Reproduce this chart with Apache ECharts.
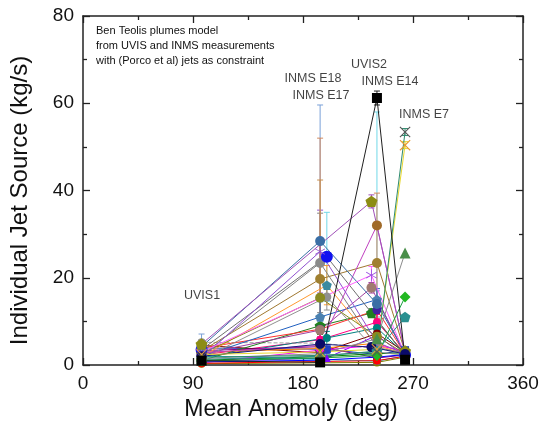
<!DOCTYPE html>
<html>
<head>
<meta charset="utf-8">
<script src="https://cdn.jsdelivr.net/npm/echarts@6/dist/echarts.min.js"></script>
<style>
  html, body { margin: 0; padding: 0; background: #fff; }
  #chart { width: 543px; height: 431px; }
</style>
</head>
<body>
<div id="chart"></div>
<script>
// Observation passes and their mean anomaly (deg)
const passNames  = ['UVIS1', 'INMS E18', 'INMS E17', 'UVIS2', 'INMS E14', 'INMS E7'];
const passAngles = [97, 194, 199.5, 236, 240.5, 263.5];

// Where each pass name is written (deg, kg/s)
const passLabelAngles  = [97.4, 188.2, 194.7, 234, 251.2, 279];
const passLabelHeights = [16.0, 65.6, 61.7, 68.8, 64.9, 57.3];

// Source rate of every jet at each pass (kg/s); null = not fitted at that pass
const uvis1   = [1.0, 1.8, 2.4, 1.5, 0.9, 1.3, 2.0, 4.8, 3.0, 1.6, 4.2, 3.5, 2.8, 2.2, 3.2, 2.6, 1.9, 1.4,
                 2.5, 2.0, 3.9, 1.0, 5.2, 0.4, 0.7, 1.1, 0.5, 2.1, 2.9, 3.3, 4.5, 0.3, 1.7, 3.9, 0.8, 2.3];
const inmsE18 = [0.6, 2.2, 3.0, 2.6, 1.6, 2.0, 4.8, null, null, 26.0, 28.4, null, 4.5, 23.4, 19.7, 15.4, null, null,
                 8.0, 11.0, 8.2, 9.0, 5.0, 0.8, 1.1, 1.9, 3.4, 1.3, 3.8, 4.2, 2.8, 0.5, null, null, null, 5.8];
const inmsE17 = [null, null, null, null, null, null, null, null, null, null, null, 24.8, null, null, null, null, 18.3, 15.6,
                 null, null, null, null, null, null, null, null, null, null, null, null, null, null, 6.2, 3.6, 1.6, null];
const uvis2   = [null, null, null, null, null, null, 4.1, 37.5, 20.6, null, null, null, null, null, null, null, null, null,
                 17.7, null, null, 11.9, null, null, null, null, null, null, null, null, null, null, null, null, null, null];
const inmsE14 = [61.2, 3.0, 3.6, 6.0, 2.2, 3.2, null, null, null, 5.2, 14.0, null, 32.0, 4.0, 23.4, 6.5, 4.5, 3.0,
                 null, 15.0, 12.6, null, 3.8, 1.0, 1.8, 2.6, 4.5, 0.9, 5.0, 1.6, 7.2, 0.6, 8.5, 2.4, 6.8, 9.8];
const inmsE7  = [1.2, 53.4, 50.4, 25.7, 15.6, 11.0, 2.5, 3.2, 2.4, 2.6, 2.8, 2.3, 2.9, 2.7, 3.0, 2.6, 2.5, 2.2,
                 2.5, 2.4, 2.6, 2.2, 2.9, 2.0, 2.4, 2.8, 3.2, 2.1, 2.7, 2.3, 3.0, 1.8, 2.5, 3.4, 2.0, 2.7];

// Uncertainties (kg/s), same layout
const uvis1Err   = [null, null, null, null, null, null, 0.6, 0.7, null, null, 2.9, 0.8, null, null, 0.6, null, null, null,
                    null, null, 0.5, null, 0.6, null, null, null, null, null, 0.5, null, 0.8, null, null, 0.7, null, null];
const inmsE18Err = [null, null, null, null, null, null, 1.2, null, null, 9.5, 31.2, null, null, 11.4, 32.3, 27.0, null, null,
                    1.5, 3.5, 2.5, 2.0, 1.5, null, null, null, 1.0, null, 1.2, null, null, null, null, null, null, 1.4];
const inmsE17Err = [null, null, null, null, null, null, null, null, null, null, null, 10.2, null, null, null, null, 4.5, 3.0,
                    null, null, null, null, null, null, null, null, null, null, null, null, null, null, 1.5, 1.0, null, null];
const uvis2Err   = [null, null, null, null, null, null, null, 1.5, 2.0, null, null, null, null, null, null, null, null, null,
                    1.2, null, null, 1.0, null, null, null, null, null, null, null, null, null, null, null, null, null, null];
const inmsE14Err = [1.6, null, null, null, null, null, null, null, null, null, 3.0, null, 26.0, null, 16.0, 1.2, null, null,
                    null, 2.5, 2.0, null, null, null, null, null, 1.0, null, 1.2, null, 1.5, null, 1.5, null, null, 1.8];
const inmsE7Err  = [null, 0.8, 0.8, null, null, null, null, null, null, null, null, null, null, null, null, null, null, null,
                    null, null, null, null, null, null, null, null, null, null, null, null, null, null, null, null, null, null];

// Drawing style of each jet
const lineColors = ['#202020', '#2e8b6e', '#e8d830', '#8c8c8c', '#18a040', '#2a8c8c', '#1a1a80', '#a050b8', '#ff60ff',
                    '#9050d0', '#3a6ea5', '#707070', '#c040c0', '#808080', '#a07830', '#8a8a20', '#ff9a30', '#909090',
                    '#a040a0', '#2060c0', '#ff3030', '#208020', '#a0a0a0', '#ff0000', '#0000ff', '#008000', '#ff00ff',
                    '#00b8d0', '#ff8000', '#800080', '#800000', '#808000', '#008080', '#2040c0', '#8000ff', '#ff0080'];
const markerColors = ['#000000', '#555555', '#e89a30', '#4a8f4a', '#22b822', '#2a9090', '#0a0a6a', '#8c8c14', '#9a50e0',
                      '#9050d0', '#3a6ea5', '#1010f0', '#a06a28', '#8a8a8a', '#a08030', '#8a8a20', '#3a8aa0', '#909090',
                      '#a07a70', '#4a80b0', '#4020a0', '#208020', '#909090', '#ff0000', '#0000ff', '#008000', '#ff00ff',
                      '#00b8d0', '#ff8000', '#800080', '#800000', '#808000', '#008080', '#2040c0', '#8000ff', '#ff0080'];
const errColors = lineColors.slice();
errColors[10] = '#7aa0d8';
errColors[11] = '#70d8e8';
errColors[12] = '#70d8e8';
errColors[14] = '#d08a60';
errColors[15] = '#c89050';

const PENTAGON = 'path://M0,-1L0.951,-0.309L0.588,0.809L-0.588,0.809L-0.951,-0.309Z';
const CROSS = 'path://M-1,-0.86L-0.86,-1L0,-0.14L0.86,-1L1,-0.86L0.14,0L1,0.86L0.86,1L0,0.14L-0.86,1L-1,0.86L-0.14,0Z';
const STAR = 'path://M-0.07,-1L0.07,-1L0.07,-0.12L0.84,-0.56L0.91,-0.44L0.14,0L0.91,0.44L0.84,0.56L0.07,0.12L0.07,1L-0.07,1L-0.07,0.12L-0.84,0.56L-0.91,0.44L-0.14,0L-0.91,-0.44L-0.84,-0.56L-0.07,-0.12Z';
const symbols = ['rect', CROSS, CROSS, 'triangle', 'diamond', PENTAGON, 'circle', PENTAGON, STAR,
                 STAR, 'circle', 'circle', 'circle', 'circle', 'circle', 'circle', PENTAGON, 'circle',
                 'circle', PENTAGON, 'circle', PENTAGON, 'circle', 'circle', 'circle', 'circle', 'circle',
                 'circle', 'circle', 'circle', 'circle', 'circle', 'circle', 'rect', 'triangle', 'circle'];
const symbolSizes = [10, 11, 11, 11, 11, 11, 10, 12, 12, 11, 10, 12, 10, 10, 10, 10, 10, 9,
                     10, 10, 9, 11, 8, 8, 8, 8, 8, 8, 8, 8, 8, 8, 8, 8, 8, 8];

const passValues = [uvis1, inmsE18, inmsE17, uvis2, inmsE14, inmsE7];
const passErrors = [uvis1Err, inmsE18Err, inmsE17Err, uvis2Err, inmsE14Err, inmsE7Err];
const jetCount = uvis1.length;

const FONT = '"Liberation Sans", Arial, sans-serif';

// Error bars: [angle, low, high, jet]
const errorData = [];
passValues.forEach((vals, p) => {
  vals.forEach((v, j) => {
    const e = passErrors[p][j];
    if (v != null && e != null) errorData.push([passAngles[p], Math.max(0, v - e), v + e, j]);
  });
});

const series = [{
  type: 'custom',
  xAxisIndex: 0, yAxisIndex: 0,
  z: 1,
  clip: true,
  data: errorData,
  renderItem(params, api) {
    const x = api.value(0);
    const top = api.coord([x, api.value(2)]);
    const bot = api.coord([x, api.value(1)]);
    const c = errColors[api.value(3)];
    const w = 3;
    const st = { stroke: c, lineWidth: 1 };
    return {
      type: 'group',
      children: [
        { type: 'line', shape: { x1: top[0], y1: top[1], x2: bot[0], y2: bot[1] }, style: st },
        { type: 'line', shape: { x1: top[0] - w, y1: top[1], x2: top[0] + w, y2: top[1] }, style: st },
        { type: 'line', shape: { x1: bot[0] - w, y1: bot[1], x2: bot[0] + w, y2: bot[1] }, style: st }
      ]
    };
  }
}];

// One connected line per jet; the emphasised jets are drawn last
for (let j = jetCount - 1; j >= 0; j--) {
  const pts = [];
  passValues.forEach((vals, p) => { if (vals[j] != null) pts.push([passAngles[p], vals[j]]); });
  series.push({
    type: 'line',
    xAxisIndex: 0, yAxisIndex: 0,
    z: 2,
    data: pts,
    symbol: symbols[j],
    symbolSize: symbolSizes[j],
    symbolKeepAspect: true,
    showAllSymbol: true,
    lineStyle: { color: lineColors[j], width: 1, type: j === 22 ? 'dashed' : 'solid' },
    itemStyle: { color: markerColors[j], borderWidth: 0 },
    emphasis: { disabled: true }
  });
}

// Pass names
series.push({
  type: 'scatter',
  xAxisIndex: 0, yAxisIndex: 0,
  z: 5,
  symbolSize: 1,
  itemStyle: { color: 'rgba(0,0,0,0)' },
  data: passNames.map((n, i) => [passLabelAngles[i], passLabelHeights[i], n]),
  label: {
    show: true, position: 'inside',
    formatter: p => p.data[2],
    color: '#111', fontSize: 12.5, fontFamily: FONT
  }
});

const tickStyle = { show: true, inside: true, length: 7, lineStyle: { color: '#222', width: 1.3 } };
const minorStyle = { show: true, splitNumber: 2, length: 4, lineStyle: { color: '#222', width: 1.3 } };
const lineStyleAxis = { show: true, onZero: false, lineStyle: { color: '#222', width: 1.5 } };

const chart = echarts.init(document.getElementById('chart'), null, { renderer: 'canvas' });
chart.setOption({
  animation: false,
  backgroundColor: '#fff',
  grid: { left: 83, right: 20, top: 16, bottom: 66 },
  xAxis: [{
    type: 'value', min: 0, max: 360, interval: 90,
    axisLine: lineStyleAxis, axisTick: tickStyle, minorTick: minorStyle,
    splitLine: { show: false },
    axisLabel: { color: '#111', fontSize: 19, fontFamily: FONT, margin: 9 },
    name: 'Mean Anomoly (deg)', nameLocation: 'middle', nameGap: 31,
    nameTextStyle: { color: '#111', fontSize: 23, fontFamily: FONT, padding: [0, 24, 0, 0] }
  }, {
    type: 'value', min: 0, max: 360, interval: 90, position: 'top',
    axisLine: lineStyleAxis, axisTick: tickStyle, minorTick: minorStyle,
    splitLine: { show: false }, axisLabel: { show: false }
  }],
  yAxis: [{
    type: 'value', min: 0, max: 80, interval: 20,
    axisLine: lineStyleAxis, axisTick: tickStyle, minorTick: minorStyle,
    splitLine: { show: false },
    axisLabel: { color: '#111', fontSize: 19, fontFamily: FONT, margin: 9 },
    name: 'Individual Jet Source (kg/s)', nameLocation: 'middle', nameGap: 51, nameRotate: 90,
    nameTextStyle: { color: '#111', fontSize: 24, fontFamily: FONT, padding: [0, 20, 0, 0] }
  }, {
    type: 'value', min: 0, max: 80, interval: 20, position: 'right',
    axisLine: lineStyleAxis, axisTick: tickStyle, minorTick: minorStyle,
    splitLine: { show: false }, axisLabel: { show: false }
  }],
  graphic: [{
    type: 'text', left: 96, top: 23,
    style: {
      text: 'Ben Teolis plumes model\nfrom UVIS and INMS measurements\nwith (Porco et al) jets as constraint',
      font: '11px "Liberation Sans", Arial, sans-serif', fill: '#111', lineHeight: 15
    }
  }],
  series: series
});
</script>
</body>
</html>
